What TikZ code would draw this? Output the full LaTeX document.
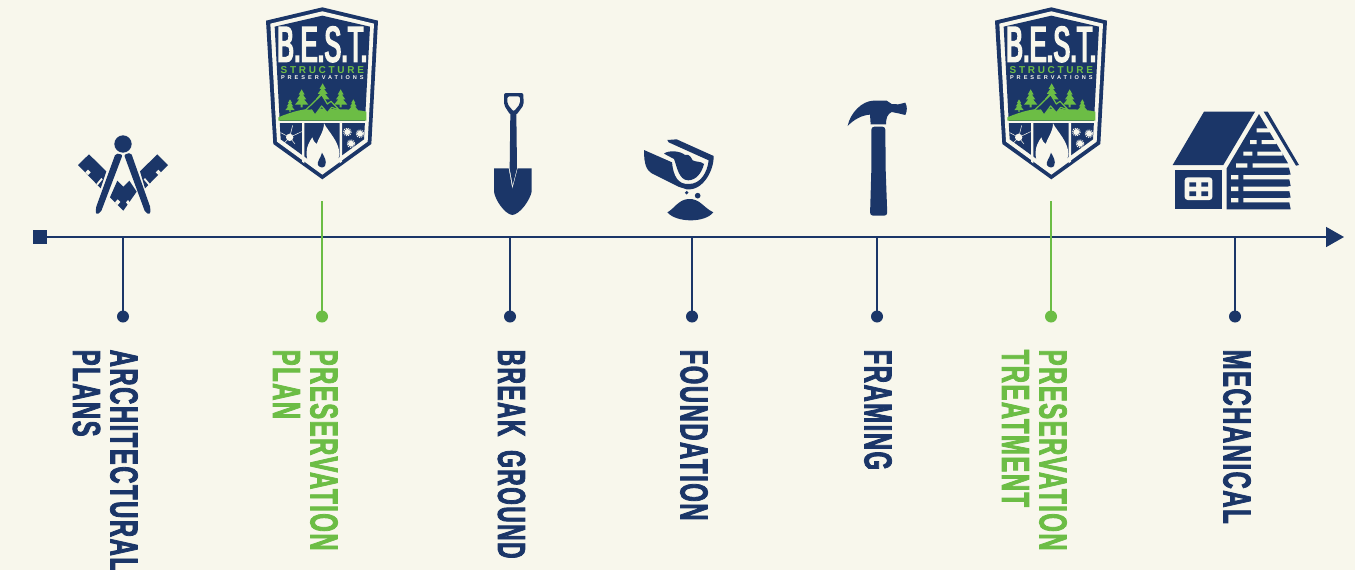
\documentclass[tikz,border=0pt]{standalone}
\usepackage{fontspec}
\usetikzlibrary{arrows.meta}
\newfontfamily\labfont[FakeStretch=0.61,FakeBold=2,LetterSpace=4]{Liberation Sans}
\newfontfamily\labfontn[FakeStretch=0.58,FakeBold=2,LetterSpace=4]{Liberation Sans}
\newfontfamily\titlefont[FakeStretch=0.5,FakeBold=3.5]{Liberation Sans}
\newfontfamily\spacedA[LetterSpace=27]{Liberation Sans}
\newfontfamily\spacedB[LetterSpace=53]{Liberation Sans}
\definecolor{navy}{HTML}{1B3668}
\definecolor{leaf}{HTML}{6CBD45}
\definecolor{paper}{HTML}{F8F7EC}
\tikzset{
  lab/.style={rotate=-90,anchor=north west,inner sep=0pt,align=left,
    font=\labfont\bfseries\fontsize{39}{37.5}\selectfont},
  dotn/.style={circle,inner sep=0pt,minimum size=12pt},
  stem/.style={line width=1.6pt},
  shieldtxt/.style={inner sep=0pt,text=paper}
}
\newcommand{\besttree}[3]{%
  \begin{scope}[shift={(#1,#2)},scale=#3]
    \fill[leaf] (0,0)--(9,16)--(4,16)--(14,30)--(7,30)--(20,46)--(3,46)--(3,54)--(-3,54)--(-3,46)--(-20,46)--(-7,30)--(-14,30)--(-4,16)--(-9,16)--cycle;
  \end{scope}}
\newcommand{\bestshield}[1]{%
  \begin{scope}[shift={(250,0)},scale=1/3]
    \fill[navy] (217,22)--(384,62)--(364,432)--(217,538)--(70,432)--(48,62)--cycle;
    \fill[paper] (217,34)--(372,71)--(353,425)--(217,524)--(81,425)--(61,71)--cycle;
    \fill[navy] (217,47)--(360,80)--(342,418)--(217,509)--(92,418)--(74,80)--cycle;
    % trees and mountain
    \besttree{120}{298}{0.7}
    \besttree{310}{298}{0.7}
    \besttree{155}{268}{1}
    \besttree{272}{268}{1}
    \besttree{218}{250}{1.05}
    \fill[leaf] (85,362) -- (85,352) .. controls (125,335) and (170,322) .. (215,326) .. controls (260,330) and (310,325) .. (349,335) -- (349,362) -- cycle;
    \fill[navy,draw=leaf,line width=1.2pt,line join=round] (165,332)--(215,284)--(232,312)--(243,304)--(268,330)--(245,322)--(232,338)--(215,318)--(195,345)--(185,330)--cycle;
    % panel dividers
    \fill[paper] (82,362)--(352,362)--(352,368)--(82,368)--cycle;
    \fill[paper] (156,365)--(163,365)--(163,490)--(156,485)--cycle;
    \fill[paper] (269,365)--(276,365)--(276,485)--(269,490)--cycle;
    % flame
    \fill[paper] (222,370) .. controls (235,395) and (268,425) .. (268,462) .. controls (268,482) and (252,500) .. (238,506) .. controls (228,512) and (205,512) .. (195,506) .. controls (180,498) and (168,482) .. (170,455) .. controls (170,440) and (178,425) .. (187,412) .. controls (190,422) and (195,430) .. (200,432) .. controls (205,415) and (222,395) .. (222,370) -- cycle;
    \fill[navy] (216,458) .. controls (222,470) and (232,482) .. (225,498) .. controls (220,505) and (208,503) .. (204,495) .. controls (200,485) and (212,475) .. (216,458) -- cycle;
    % sun
    \fill[paper] (119,412) circle (11);
    \draw[paper,line width=.5pt] (119,412)--(128,376) (119,412)--(155,395) (119,412)--(92,398) (119,412)--(100,432) (119,412)--(135,432);
    % snowflakes
    \foreach \fx/\fy in {292/396,330/401,303/431}{
      \fill[paper] (\fx,\fy) circle (9);
      \draw[paper,line width=1pt,dash pattern=on 1pt off 1pt] (\fx,\fy) circle (11.5);
    }
    \node[shieldtxt,font=\titlefont\fontsize{50}{50}\selectfont] (#1title) at (217,133) {B.E.S.T.};
    \node[inner sep=0pt,text=leaf,font=\spacedA\bfseries\fontsize{10}{10}\selectfont] (#1struct) at (217,211) {STRUCTURE};
    \node[shieldtxt,font=\spacedB\bfseries\fontsize{5.6}{6}\selectfont] (#1pres) at (217,232) {PRESERVATIONS};
  \end{scope}}
\begin{document}
\begin{tikzpicture}[x=1pt,y=-1pt]
  \useasboundingbox (0,0) rectangle (1355,570);
  \fill[paper] (0,0) rectangle (1355,570);
  \clip (0,0) rectangle (1355,570);

  % timeline
  \node[fill=navy,inner sep=0pt,minimum size=14pt] (start) at (40,237) {};
  \coordinate (axisend) at (1344,237);
  \draw[navy,line width=1.6pt,-{Triangle[length=18pt,width=20pt]}] (start.center) -- (axisend);

  \foreach \n/\x/\y/\c in {1/123/237/navy,2/322/201/leaf,3/510/237/navy,4/692/237/navy,5/877/237/navy,6/1051/201/leaf,7/1235/237/navy}{
    \coordinate (t\n) at (\x,\y);
    \node[dotn,fill=\c] (d\n) at (\x,316.5) {};
    \draw[stem,draw=\c] (t\n) -- (d\n.center);
  }

  % labels
  \node[lab,text=navy] (l1) at (138,349.5) {ARCHITECTURAL\\PLANS};
  \node[lab,text=leaf] (l2) at (338,349.5) {PRESERVATION\\PLAN};
  \node[lab,text=navy,font=\labfontn\bfseries\fontsize{39}{37.5}\selectfont] (l3) at (525.5,349.5) {BREAK\hspace{6pt} GROUND};
  \node[lab,text=navy] (l4) at (708,349.5) {FOUNDATION};
  \node[lab,text=navy] (l5) at (892,349.5) {FRAMING};
  \node[lab,text=leaf] (l6) at (1067,349.5) {PRESERVATION\\TREATMENT};
  \node[lab,text=navy] (l7) at (1251,349.5) {MECHANICAL};

  % shields
  \bestshield{a}
  \begin{scope}[shift={(729,0)}]\bestshield{b}\end{scope}

  % compass and square
  \begin{scope}[shift={(60,120)},scale=1/3]
    \fill[navy] (189,72) circle (26);
    \fill[navy] (87,103)--(139,154)--(122,205)--(54,135)--cycle;
    \fill[navy] (292,103)--(324,135)--(255,205)--(240,154)--cycle;
    \fill[paper] (76,157)--(84,165)--(92,157)--(84,149)--cycle (109,192)--(113,196)--(128,178)--(124,174)--cycle;
    \fill[paper] (303,157)--(295,165)--(287,157)--(295,149)--cycle (270,192)--(266,196)--(251,178)--(255,174)--cycle;
    \fill[navy] (172,182)--(190,200)--(208,182)--(230,215)--(190,272)--(150,232)--cycle;
    \fill[paper] (165,247)--(173,255)--(181,246)--(173,238)--cycle (206,257)--(212,250)--(204,240)--(198,247)--cycle;
    \fill[navy,rounded corners=2pt] (167,100)--(188,104)--(122,278)--(108,283)--(107,265)--cycle;
    \fill[navy,rounded corners=2pt] (192,104)--(213,98)--(272,265)--(270,283)--(256,278)--cycle;
  \end{scope}

  % shovel
  \begin{scope}[shift={(470,85)},scale=1/3]
    \fill[navy,even odd rule,rounded corners=2pt] (102,24)--(160,24)--(161,60)--(139,90)--(121,90)--(102,60)--cycle
      (112,34)--(150,34)--(150,57)--(131,80)--(112,57)--cycle;
    \fill[navy] (121,85)--(139,85)--(141,250)--(128,300)--(119,250)--cycle;
    \fill[navy,even odd rule] (72,250)--(116,250)--(127,312)--(143,250)--(185,250)--(185,320) .. controls (180,345) and (150,388) .. (127,390) .. controls (105,388) and (75,345) .. (72,320) -- cycle;
  \end{scope}

  % pouring bucket
  \begin{scope}[shift={(470,85)},scale=1/3]
    \fill[navy] (522,195)--(606,232) .. controls (610,275) and (625,298) .. (655,297) .. controls (692,298) and (712,262) .. (716,226)--(596,172)--(592,165)--(620,163)--(731,213) .. controls (732,255) and (700,318) .. (650,313)--(625,305)--(545,265) .. controls (530,255) and (522,240) .. (522,195) -- cycle;
    \fill[navy] (582,206) .. controls (595,195) and (630,197) .. (645,210) .. controls (660,205) and (665,222) .. (668,226) .. controls (680,232) and (692,228) .. (702,237) .. controls (695,265) and (678,285) .. (655,286) .. controls (625,286) and (620,240) .. (612,222) -- cycle;
    \fill[navy] (650,323) circle (5.5);
    \fill[navy] (683,332) circle (8.5);
    \fill[navy] (592,382) .. controls (612,372) and (625,344) .. (655,342) .. controls (690,340) and (700,368) .. (730,382) .. controls (705,414) and (620,414) .. (592,382) -- cycle;
  \end{scope}

  % hammer
  \begin{scope}[shift={(830,90)},scale=1/3]
    \fill[navy] (53,108) .. controls (60,70) and (95,33) .. (130,32)--(170,32)--(185,42)--(205,43)--(226,38) .. controls (232,50) and (232,62) .. (226,75)--(205,70)--(185,66) .. controls (172,72) and (168,85) .. (168,103)--(122,103)--(120,74) .. controls (95,75) and (70,90) .. (53,108) -- cycle;
    \fill[navy,rounded corners=3pt] (124,110)--(166,110)--(167,240)--(172,377)--(120,377)--(124,240)--cycle;
  \end{scope}

  % house
  \begin{scope}[shift={(1160,100)},scale=1/3]
    \fill[navy] (132,35)--(285,35)--(190,195)--(38,195)--cycle;
    \fill[navy] (46,211)--(185,211)--(185,328)--(46,328)--cycle;
    \fill[paper,rounded corners=3pt] (74,232)--(157,232)--(157,300)--(74,300)--cycle;
    \fill[navy] (88,247) rectangle (108,260) (124,247) rectangle (144,260) (88,274) rectangle (108,288) (124,274) rectangle (144,288);
    \fill[navy] (200,205)--(297,42)--(383,188)--(392,224)--(385,224)--(392,258)--(385,258)--(392,293)--(385,293)--(392,328)--(200,328)--cycle;
    \fill[paper] (250,294) rectangle (395,307) (250,260) rectangle (395,273) (250,225) rectangle (395,238) (278,190) rectangle (390,203) (292,155) rectangle (368,167) (305,120) rectangle (350,132) (290,85) rectangle (330,97);
    \fill[paper] (213,294) rectangle (235,307) (213,260) rectangle (235,273) (213,225) rectangle (235,238) (228,190) rectangle (262,203) (250,155) rectangle (277,167) (270,120) rectangle (290,132);
    \fill[navy] (311,35)--(323,35)--(417,195)--(408,197)--cycle;
  \end{scope}
\end{tikzpicture}
\end{document}
